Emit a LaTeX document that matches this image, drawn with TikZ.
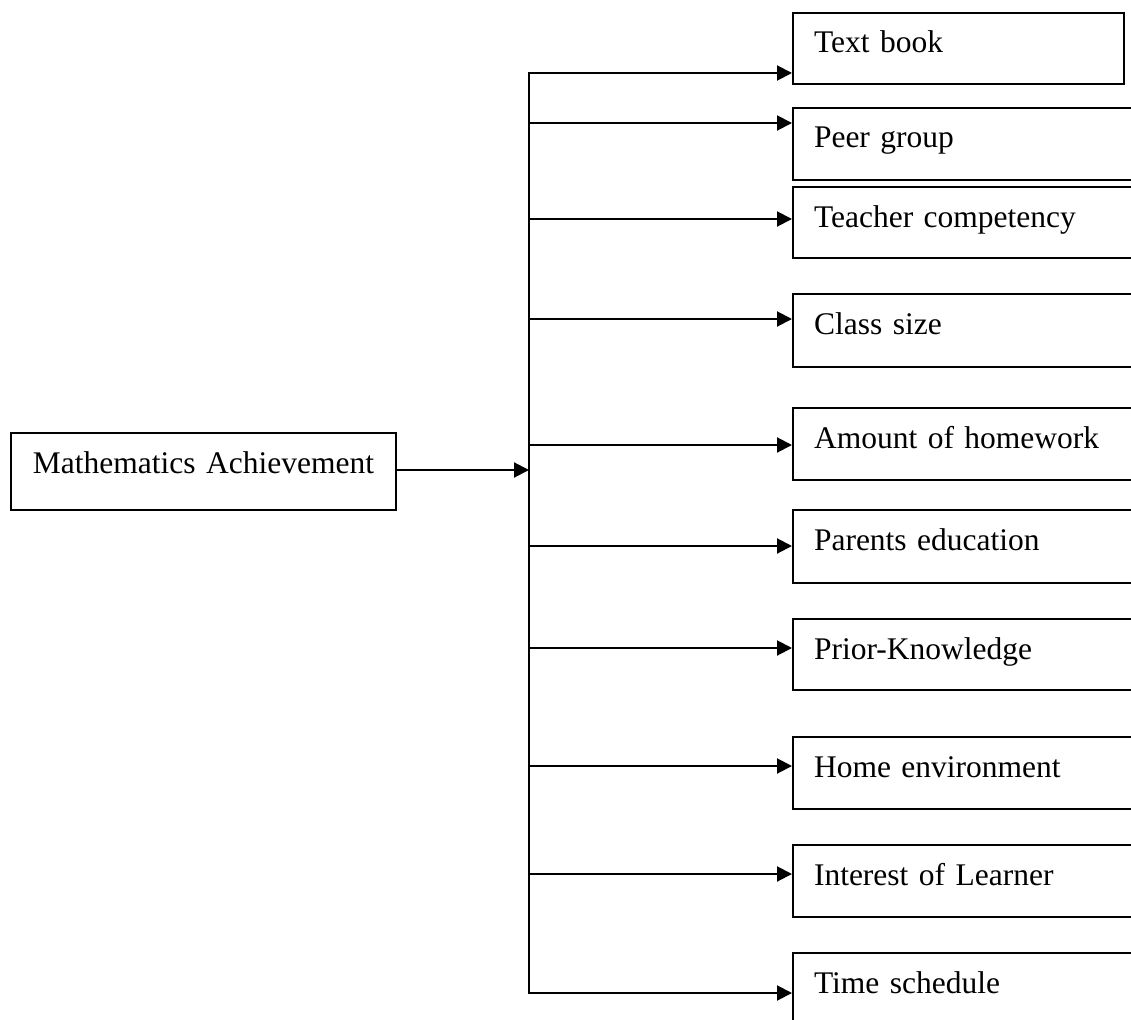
\documentclass[tikz,border=0pt]{standalone}
\usepackage{fontspec}
\setmainfont{Liberation Serif}
\usetikzlibrary{arrows.meta}
\begin{document}
\begin{tikzpicture}[x=1pt,y=-1pt,
  line width=2pt,
  font=\fontsize{31.5}{36}\selectfont,
  arr/.style={-{Triangle[length=15pt,width=15pt]}},
  rbox/.style={draw, anchor=north west, inner xsep=21pt, inner ysep=0pt,
    text width=320pt, align=left, text height=40pt, text depth=32pt},
  lbox/.style={draw, anchor=north west, inner xsep=0pt, inner ysep=0pt,
    text width=385pt, align=center, text height=40pt, text depth=37pt}]
\useasboundingbox (0,0) rectangle (1131,1019);
\clip (0,0) rectangle (1131,1019);
% left box
\node[lbox] (ma) at (10,432) {Mathematics Achievement};
% right boxes
\node[rbox, text width=289pt, text depth=31pt] (b1) at (792,12) {Text book};
\node[rbox] (b2) at (792,107) {Peer group};
\node[rbox, text depth=31pt] (b3) at (792,186) {Teacher competency};
\node[rbox, text depth=33pt] (b4) at (792,293) {Class size};
\node[rbox] (b5) at (792,407) {Amount of homework};
\node[rbox, text depth=33pt] (b6) at (792,509) {Parents education};
\node[rbox, text depth=31pt] (b7) at (792,618) {Prior-Knowledge};
\node[rbox] (b8) at (792,736) {Home environment};
\node[rbox] (b9) at (792,844) {Interest of Learner};
\node[rbox] (b10) at (792,952) {Time schedule};
% trunk coordinates
\coordinate (t1) at (529,73);
\coordinate (t2) at (529,123);
\coordinate (t3) at (529,219);
\coordinate (t4) at (529,319);
\coordinate (t5) at (529,445);
\coordinate (t6) at (529,546);
\coordinate (t7) at (529,648);
\coordinate (t8) at (529,766);
\coordinate (t9) at (529,874);
\coordinate (t10) at (529,993);
\coordinate (tm) at (529,470);
% trunk with top and bottom branches
\draw[arr] (t10) -- (t1) -- (b1.west |- t1);
\draw[arr] (t1) -- (t10) -- (b10.west |- t10);
% main arrow
\draw[arr] (ma.east |- tm) -- (tm);
% branches
\foreach \i in {2,...,9}{
  \draw[arr] (t\i) -- (b\i.west |- t\i);
}
\end{tikzpicture}
\end{document}
